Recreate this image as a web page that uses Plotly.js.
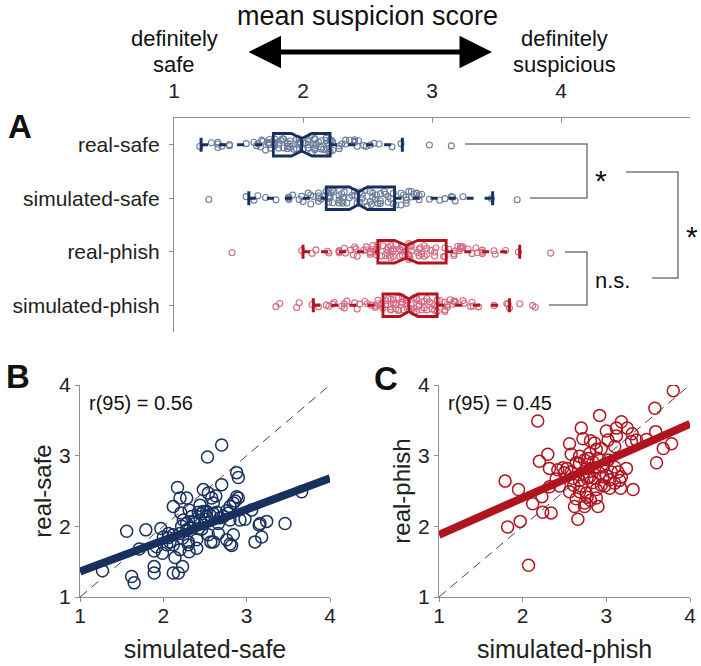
<!DOCTYPE html>
<html><head><meta charset="utf-8">
<script src="https://cdn.plot.ly/plotly-3.0.1.min.js"></script>
<style>html,body{margin:0;padding:0;background:#fff}#chart{width:701px;height:666px}</style>
</head><body><div id="chart"></div>
<script>
// ---------- data ----------
const categories = ['real-safe', 'simulated-safe', 'real-phish', 'simulated-phish'];
const boxQ1 = [1.77, 2.18, 2.58, 2.62];
const boxMedian = [1.99, 2.43, 2.80, 2.82];
const boxQ3 = [2.21, 2.71, 3.11, 3.04];
const whiskerLow = [1.21, 1.58, 2.00, 2.08];
const whiskerHigh = [2.77, 3.47, 3.68, 3.60];
const notchSpan = [0.08, 0.07, 0.09, 0.07];

const simulatedSafe = [1.27,1.62,1.65,1.56,1.79,1.97,1.89,1.89,1.89,1.99,2.00,2.06,2.08,2.12,2.17,2.20,2.28,2.21,2.12,2.12,2.14,2.12,2.18,2.23,2.20,2.23,2.28,2.30,2.31,2.31,2.40,2.40,2.44,2.46,2.48,2.53,2.54,2.58,2.63,2.70,2.70,2.57,2.54,2.60,2.66,2.76,2.80,2.82,2.84,2.88,2.90,2.88,2.90,2.84,2.80,2.78,2.92,2.80,2.72,2.60,2.52,2.44,2.38,2.34,2.42,2.66,3.06,3.10,3.15,3.16,3.18,3.24,3.46,3.66,2.52,2.28,2.22,2.48,2.04,1.92,2.24,2.60,2.32,2.36,2.50,2.56,2.64,2.68,2.76,2.42,2.20,2.06,1.71,2.86,2.98,2.30,2.46];
const realSafe = [1.37,1.29,1.20,1.93,1.95,1.97,1.65,1.43,1.34,1.62,1.85,1.90,1.78,2.28,2.55,2.40,2.40,2.19,1.88,1.74,1.56,1.34,1.34,1.43,1.67,1.83,1.95,1.78,1.64,2.23,1.69,1.81,2.30,2.18,2.52,2.98,2.47,2.40,2.43,2.59,3.15,1.78,1.88,1.78,1.90,1.81,1.75,1.73,1.88,2.76,2.69,2.42,2.40,2.33,2.28,2.19,2.09,2.09,2.14,2.18,2.21,2.09,2.04,2.14,1.97,2.04,2.23,1.78,2.02,2.04,1.85,2.07,2.04,2.49,2.14,2.04,2.00,2.21,1.74,1.71,2.09,2.33,1.98,2.06,2.10,2.16,2.20,2.12,2.22,2.20,1.90,1.84,1.68,2.36,2.10,1.74,1.96];

const simulatedPhish = [3.80,3.58,3.59,3.60,3.68,3.78,3.48,3.36,3.31,3.25,3.18,3.12,3.12,3.00,3.02,2.92,2.94,2.88,3.10,2.70,2.72,2.81,2.86,2.56,2.58,2.18,2.30,2.20,2.32,2.42,2.48,2.53,2.58,2.64,2.68,2.74,2.78,2.84,2.90,2.96,3.00,3.06,3.10,3.14,3.18,3.17,3.32,3.10,3.04,2.98,2.88,2.90,2.76,2.77,2.74,2.70,2.68,2.61,2.64,2.62,2.66,2.44,2.32,2.23,2.24,2.34,2.12,1.95,1.79,1.82,1.97,2.07,2.80,2.86,2.92,2.96,2.72,2.77,2.68,2.86,2.76,2.80,2.68,2.60,2.94,3.04,2.40,2.50,3.24,3.30,2.74,2.81,3.02,3.16,2.56,2.88,2.84];
const realPhish = [3.92,3.67,3.34,2.90,3.10,3.17,3.23,3.22,3.31,3.39,3.48,3.39,3.28,3.35,3.22,3.57,3.10,3.09,3.13,3.39,3.24,3.21,3.18,3.17,3.02,3.49,3.02,2.92,2.82,2.80,2.83,2.82,2.77,2.90,2.89,2.94,2.96,2.91,2.96,2.84,2.72,2.77,2.84,2.77,2.70,2.54,2.52,2.61,2.54,2.57,2.52,2.28,2.47,2.41,2.33,2.57,2.49,2.58,2.39,2.28,2.10,2.57,2.56,2.42,2.20,2.19,2.32,2.52,2.64,1.99,2.07,1.45,2.70,2.68,2.75,2.70,2.75,2.68,2.65,2.83,2.82,3.03,2.99,2.68,2.58,2.66,2.67,2.76,2.82,3.20,2.28,2.37,2.94,2.65,2.49,2.40,2.62];

const stripValues = [realSafe, simulatedSafe, realPhish, simulatedPhish];
const fitX = [1, 4];
const fitSafe = [1.36, 2.68];
const fitPhish = [1.88, 3.45];
const identityLine = [1, 4];
const tickValues = [1, 2, 3, 4];
const corrSafe = 'r(95) = 0.56';
const corrPhish = 'r(95) = 0.45';

// ---------- styles ----------
const NAVY = '#17305e', RED = '#b0141f';
const NAVY_PT = '#6d7d9a', RED_PT = '#d36b82';
const boxColor = [NAVY, NAVY, RED, RED];
const ptColor = [NAVY_PT, NAVY_PT, RED_PT, RED_PT];
const AX = '#8f8f8f';
const W = 701, H = 666;
const px = x => x / W, py = y => 1 - y / H;
const FONT = 'Liberation Sans, Arial, sans-serif';

const traces = [];
// strip points
categories.forEach((c, i) => {
  traces.push({
    type: 'box', orientation: 'h', x: stripValues[i], y: stripValues[i].map(() => c),
    boxpoints: 'all', jitter: 0.8, pointpos: 0, width: 0.42,
    fillcolor: 'rgba(0,0,0,0)', line: {color: 'rgba(0,0,0,0)', width: 0},
    marker: {symbol: 'circle-open', size: 6, color: ptColor[i], line: {width: 1.1}},
    xaxis: 'x', yaxis: 'y', hoverinfo: 'skip', showlegend: false
  });
});
// dashed whiskers + caps
categories.forEach((c, i) => {
  traces.push({
    type: 'scatter', mode: 'lines', xaxis: 'x', yaxis: 'y',
    x: [whiskerLow[i], boxQ1[i], null, boxQ3[i], whiskerHigh[i]],
    y: [c, c, null, c, c],
    line: {color: boxColor[i], width: 3, dash: '7px,11px'}, hoverinfo: 'skip', showlegend: false
  });
  traces.push({
    type: 'scatter', mode: 'markers', xaxis: 'x', yaxis: 'y',
    x: [whiskerLow[i], whiskerHigh[i]], y: [c, c],
    marker: {symbol: 'line-ns', size: 10, color: boxColor[i], line: {color: boxColor[i], width: 3}},
    hoverinfo: 'skip', showlegend: false
  });
});
// notched boxes
categories.forEach((c, i) => {
  traces.push({
    type: 'box', orientation: 'h', y: [c],
    q1: [boxQ1[i]], median: [boxMedian[i]], q3: [boxQ3[i]],
    lowerfence: [boxQ1[i]], upperfence: [boxQ3[i]],
    notched: true, notchspan: [notchSpan[i]], notchwidth: 0.22,
    width: 0.42, whiskerwidth: 0, boxpoints: false,
    fillcolor: 'rgba(0,0,0,0)', line: {color: boxColor[i], width: 2.8},
    xaxis: 'x', yaxis: 'y', hoverinfo: 'skip', showlegend: false
  });
});
// panel B
traces.push({type: 'scatter', mode: 'markers', x: simulatedSafe, y: realSafe, xaxis: 'x2', yaxis: 'y2',
  marker: {symbol: 'circle-open', size: 12, color: NAVY, line: {width: 1.5}}, hoverinfo: 'skip', showlegend: false});
traces.push({type: 'scatter', mode: 'lines', x: identityLine, y: identityLine, xaxis: 'x2', yaxis: 'y2',
  line: {color: '#444', width: 1, dash: '9px,6px'}, hoverinfo: 'skip', showlegend: false});
traces.push({type: 'scatter', mode: 'lines', x: fitX, y: fitSafe, xaxis: 'x2', yaxis: 'y2',
  line: {color: NAVY, width: 8}, hoverinfo: 'skip', showlegend: false});
// panel C
traces.push({type: 'scatter', mode: 'markers', x: simulatedPhish, y: realPhish, xaxis: 'x3', yaxis: 'y3',
  marker: {symbol: 'circle-open', size: 12, color: RED, line: {width: 1.5}}, hoverinfo: 'skip', showlegend: false});
traces.push({type: 'scatter', mode: 'lines', x: identityLine, y: identityLine, xaxis: 'x3', yaxis: 'y3',
  line: {color: '#444', width: 1, dash: '9px,6px'}, hoverinfo: 'skip', showlegend: false});
traces.push({type: 'scatter', mode: 'lines', x: fitX, y: fitPhish, xaxis: 'x3', yaxis: 'y3',
  line: {color: RED, width: 8}, hoverinfo: 'skip', showlegend: false});

const scatterAxis = (dom, title, isY) => ({
  domain: dom, range: [1, 4], tickvals: tickValues, showgrid: false, zeroline: false,
  showline: true, linecolor: AX, linewidth: 1.2, ticks: 'outside', ticklen: 4, tickcolor: AX,
  tickfont: {size: 21, color: '#222'}, ticklabelstandoff: isY ? 0 : -4,
  title: {text: title, font: {size: isY ? 24 : 25, color: '#222'}, standoff: isY ? 0 : 14}
});

const bracket = (pts) => ({type: 'path', xref: 'paper', yref: 'paper',
  path: pts.map((p, k) => (k ? 'L' : 'M') + px(p[0]) + ',' + py(p[1])).join(' '),
  line: {color: '#7a7a7a', width: 1.5}});

const txt = (x, y, text, size, extra) => Object.assign({xref: 'paper', yref: 'paper', x: px(x), y: py(y),
  text: text, showarrow: false, font: {size: size, color: '#111', family: FONT}, xanchor: 'center', yanchor: 'middle'}, extra || {});

const layout = {
  width: W, height: H, margin: {l: 0, r: 0, t: 0, b: 0},
  paper_bgcolor: '#fff', plot_bgcolor: 'rgba(0,0,0,0)',
  font: {family: FONT, color: '#222'},
  boxmode: 'overlay', showlegend: false,
  xaxis: {domain: [px(174), px(690)], range: [1, 5], side: 'top', tickvals: tickValues,
    ticks: 'inside', ticklen: 5, tickcolor: AX, showline: true, linecolor: AX, linewidth: 1.2,
    showgrid: false, zeroline: false, tickfont: {size: 21, color: '#222'}, ticklabelstandoff: 10},
  yaxis: {domain: [py(332), py(118)], type: 'category', categoryarray: categories, range: [3.5, -0.5],
    ticks: 'outside', ticklen: 4, tickcolor: AX, showline: true, linecolor: AX, linewidth: 1.2,
    showgrid: false, zeroline: false, tickfont: {size: 21, color: '#222'}, ticklabelstandoff: 5},
  xaxis2: Object.assign(scatterAxis([px(80), px(330)], 'simulated-safe', false), {anchor: 'y2'}),
  yaxis2: Object.assign(scatterAxis([py(597), py(385)], 'real-safe', true), {anchor: 'x2'}),
  xaxis3: Object.assign(scatterAxis([px(439), px(690)], 'simulated-phish', false), {anchor: 'y3'}),
  yaxis3: Object.assign(scatterAxis([py(597), py(385)], 'real-phish', true), {anchor: 'x3'}),
  shapes: [
    bracket([[465, 144], [587, 144], [587, 198], [530, 198]]),
    bracket([[565, 252], [587, 252], [587, 305], [549, 305]]),
    bracket([[626, 172], [678, 172], [678, 278], [652, 278]])
  ],
  annotations: [
    txt(367, 16, 'mean suspicion score', 27),
    txt(174, 39, 'definitely', 22),
    txt(174, 64, 'safe', 22),
    txt(564, 39, 'definitely', 22),
    txt(564, 64, 'suspicious', 22),
    {xref: 'paper', yref: 'paper', x: px(492), y: py(52), ax: -245, ay: 0, axref: 'pixel', ayref: 'pixel',
      text: '', showarrow: true, arrowhead: 2, arrowside: 'end+start', arrowwidth: 5, arrowsize: 1.3,
      arrowcolor: '#000', standoff: 0, startstandoff: 0},
    txt(20, 126, '<b>A</b>', 33),
    txt(18, 376, '<b>B</b>', 33),
    txt(386, 378, '<b>C</b>', 33),
    txt(601, 180, '*', 30),
    txt(612, 280, 'n.s.', 22),
    txt(692, 236, '*', 30),
    txt(87, 403, corrSafe, 20, {xanchor: 'left'}),
    txt(446, 403, corrPhish, 20, {xanchor: 'left'})
  ]
};

Plotly.newPlot('chart', traces, layout, {staticPlot: true, displayModeBar: false});
</script></body></html>
